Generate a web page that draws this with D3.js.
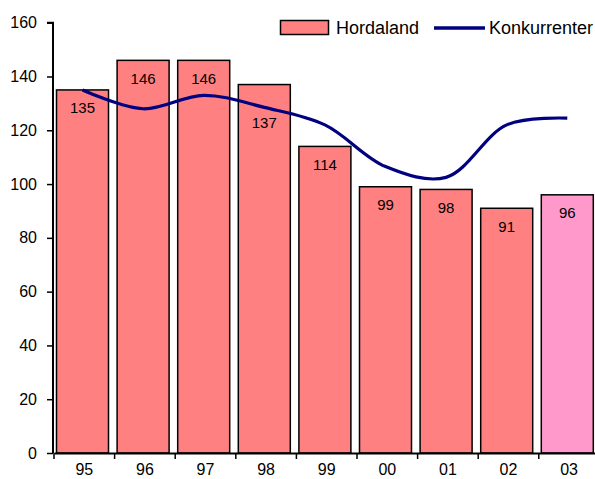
<!DOCTYPE html>
<html><head><meta charset="utf-8">
<script src="https://cdn.jsdelivr.net/npm/d3@7"></script>
<style>
html,body{margin:0;padding:0;background:#fff;}
svg{display:block;}
text{font-family:"Liberation Sans",Arial,sans-serif;fill:#000;}
</style></head>
<body>
<script>
const categories = ["95","96","97","98","99","00","01","02","03"];
const hordaland = [135,146,146,137,114,99,98,91,96];
const konkurrenter = [135,128,133,128.5,122,106.5,102.5,122,124.5];
const yTicks = [0,20,40,60,80,100,120,140,160];
const seriesNames = ["Hordaland","Konkurrenter"];

const W = 595, H = 479;
const svg = d3.select("body").append("svg").attr("width", W).attr("height", H);

const x = d3.scaleBand().domain(categories).range([54, 54 + 9 * 60.6]).paddingInner(0).paddingOuter(0);
const y = d3.scaleLinear().domain([0,160]).range([453, 22.7]);

// bars
svg.append("g").selectAll("rect").data(hordaland).join("rect")
  .attr("x", (d,i) => x(categories[i]) + 2.5)
  .attr("width", 52)
  .attr("y", d => y(d))
  .attr("height", d => y(0) - y(d))
  .attr("fill", (d,i) => i === categories.length - 1 ? "#FF99CC" : "#FF8080")
  .attr("stroke", "#000").attr("stroke-width", 1.5);

// bar labels (the 98 label is pushed down below the line, as in the original)
svg.append("g").selectAll("text").data(hordaland).join("text")
  .attr("x", (d,i) => x(categories[i]) + 2.5 + 26)
  .attr("y", (d,i) => y(d) + (i === 3 ? 43 : 23.5))
  .attr("text-anchor", "middle")
  .style("font-size", "15px")
  .text(d => d);

// line
const line = d3.line()
  .x((d,i) => x(categories[i]) + 2.5 + 26)
  .y(d => y(d))
  .curve(d3.curveCatmullRom.alpha(0.5));
svg.append("path").datum(konkurrenter)
  .attr("d", line).attr("fill", "none")
  .attr("stroke", "#000080").attr("stroke-width", 3.2);

// y axis
const yAxis = d3.axisLeft(y).tickValues(yTicks).tickSize(6).tickPadding(10);
const gy = svg.append("g").attr("transform", "translate(53,0)").call(yAxis);
gy.select(".domain").attr("stroke", "#000").attr("stroke-width", 2).attr("d", "M-6,22.7H0V453");
gy.selectAll(".tick line").attr("stroke", "#000").attr("stroke-width", 1.5);
gy.selectAll(".tick text").style("font-size", "16px").attr("font-family", null)
  .style("font-family", "'Liberation Sans Narrow','Liberation Sans',Arial,sans-serif");

// x axis
const xAxis = d3.axisBottom(x).tickSize(0).tickPadding(0);
const gx = svg.append("g").attr("transform", "translate(0,453)").call(xAxis);
gx.select(".domain").attr("stroke", "#000").attr("stroke-width", 2);
gx.selectAll(".tick text").attr("y", 22).attr("dy", 0).style("font-size", "16px").attr("font-family", null);
svg.append("g").selectAll("line").data(categories).join("line")
  .attr("x1", d => x(d)).attr("x2", d => x(d))
  .attr("y1", 453).attr("y2", 459)
  .attr("stroke", "#000").attr("stroke-width", 1.5);

// legend
const lg = svg.append("g");
lg.append("rect").attr("x", 280.5).attr("y", 20.5).attr("width", 48).attr("height", 14)
  .attr("fill", "#FF8080").attr("stroke", "#000").attr("stroke-width", 1.5);
lg.append("text").attr("x", 336).attr("y", 34).style("font-size", "18px").text(seriesNames[0]);
lg.append("line").attr("x1", 434).attr("x2", 485).attr("y1", 28).attr("y2", 28)
  .attr("stroke", "#000080").attr("stroke-width", 3.5);
lg.append("text").attr("x", 489).attr("y", 34).style("font-size", "18px").text(seriesNames[1]);
</script>
</body></html>
